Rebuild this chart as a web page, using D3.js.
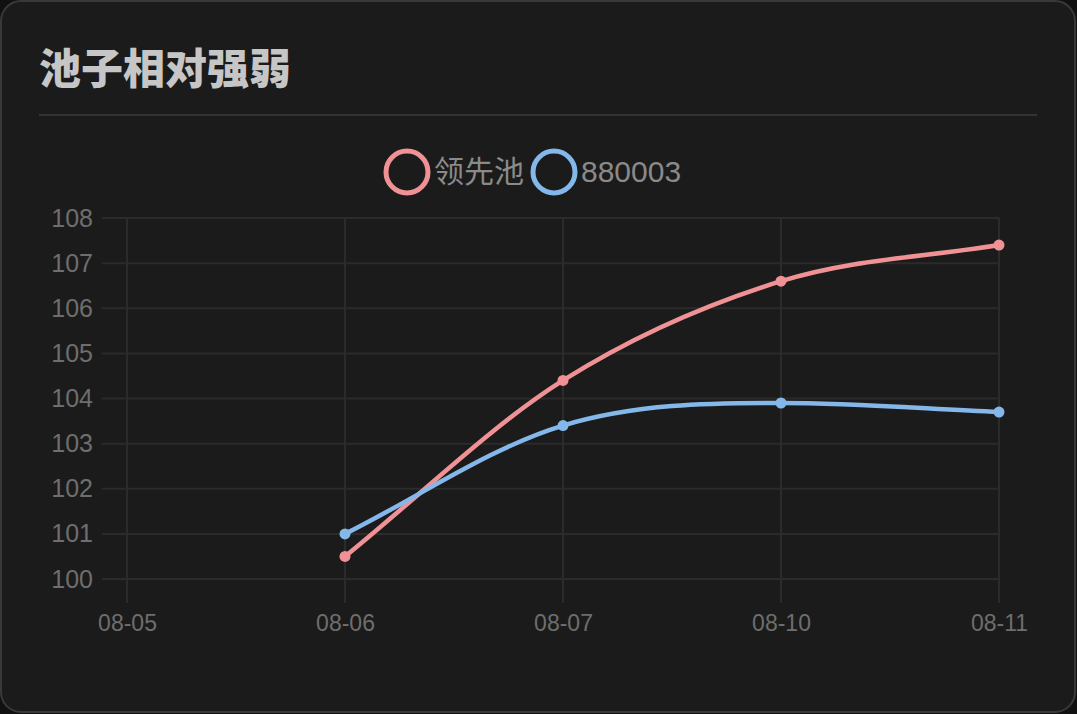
<!DOCTYPE html>
<html>
<head>
<meta charset="utf-8">
<script src="https://cdn.jsdelivr.net/npm/d3@7"></script>
<style>
  html, body { margin: 0; padding: 0; background: #111; }
  body { width: 1077px; height: 714px; overflow: hidden; }
  svg { display: block; }
</style>
</head>
<body>
<div id="chart"></div>
<script>
/* Pool relative strength, two lines */

const dates = ["08-05", "08-06", "08-07", "08-10", "08-11"];
const leadPool = [null, 100.5, 104.4, 106.6, 107.4];
const idx880003 = [null, 101.0, 103.4, 103.9, 103.7];
const yTicks = [100, 101, 102, 103, 104, 105, 106, 107, 108];

const series = [
    { name: "领先池", values: leadPool, color: "#f09295" },
    { name: "880003", values: idx880003, color: "#84b8ea" }
];

// monotone spline like chart.js (endpoint tangent = first/last secant)
function curveMono(context) {
    let xs, ys;
    return {
        areaStart() {}, areaEnd() {},
        lineStart() { xs = []; ys = []; },
        point(x, y) { xs.push(+x); ys.push(+y); },
        lineEnd() {
            const n = xs.length;
            if (!n) return;
            context.moveTo(xs[0], ys[0]);
            if (n === 1) return;
            const dk = [], mk = [];
            for (let i = 0; i < n - 1; i++) dk[i] = (ys[i + 1] - ys[i]) / (xs[i + 1] - xs[i]);
            mk[0] = dk[0];
            mk[n - 1] = dk[n - 2];
            for (let i = 1; i < n - 1; i++) {
                mk[i] = (dk[i - 1] === 0 || dk[i] === 0 || Math.sign(dk[i - 1]) !== Math.sign(dk[i]))
                    ? 0 : (dk[i - 1] + dk[i]) / 2;
            }
            for (let i = 0; i < n - 1; i++) {
                if (dk[i] === 0) { mk[i] = mk[i + 1] = 0; continue; }
                const a = mk[i] / dk[i], b = mk[i + 1] / dk[i];
                const sq = a * a + b * b;
                if (sq > 9) {
                    const t = 3 / Math.sqrt(sq);
                    mk[i] = a * t * dk[i];
                    mk[i + 1] = b * t * dk[i];
                }
            }
            for (let i = 0; i < n - 1; i++) {
                const h = (xs[i + 1] - xs[i]) / 3;
                context.bezierCurveTo(xs[i] + h, ys[i] + mk[i] * h,
                    xs[i + 1] - h, ys[i + 1] - mk[i + 1] * h,
                    xs[i + 1], ys[i + 1]);
            }
        }
    };
}

const width = 1077, height = 714;

const svg = d3.select("#chart")
    .append("svg")
    .attr("width", width)
    .attr("height", height);

// card
svg.append("rect")
    .attr("x", 1).attr("y", 1)
    .attr("width", width - 3).attr("height", height - 3)
    .attr("rx", 20)
    .attr("fill", "#1b1b1b")
    .attr("stroke", "#393939")
    .attr("stroke-width", 2);

svg.append("text")
    .attr("x", 39).attr("y", 84)
    .attr("font-family", "Noto Sans CJK SC")
    .attr("font-size", 42)
    .attr("font-weight", 900)
    .attr("fill", "#c6c6c6")
    .text("池子相对强弱");

svg.append("line")
    .attr("x1", 39).attr("x2", 1037)
    .attr("y1", 115).attr("y2", 115)
    .attr("stroke", "#333")
    .attr("stroke-width", 2);

// legend
const legend = svg.append("g")
    .attr("font-size", 30)
    .attr("fill", "#8a8a8a");
const legendX = [407, 554];
series.forEach((s, i) => {
    legend.append("circle")
        .attr("cx", legendX[i]).attr("cy", 172).attr("r", 21)
        .attr("fill", "none")
        .attr("stroke", s.color)
        .attr("stroke-width", 5);
    legend.append("text")
        .attr("x", legendX[i] + 27).attr("y", 182)
        .attr("font-family", i === 0 ? "Noto Sans CJK SC" : "Liberation Sans, Arial")
        .text(s.name);
});

const x = d3.scalePoint().domain(dates).range([127, 999]);
const y = d3.scaleLinear().domain([100, 108]).range([579, 218]);

// grid
const grid = svg.append("g").attr("stroke", "#2b2b2b").attr("stroke-width", 2);
grid.selectAll("line.h")
    .data(yTicks)
    .join("line")
    .attr("class", "h")
    .attr("x1", 102).attr("x2", 999)
    .attr("y1", d => y(d)).attr("y2", d => y(d));
grid.selectAll("line.v")
    .data(dates)
    .join("line")
    .attr("class", "v")
    .attr("x1", d => x(d)).attr("x2", d => x(d))
    .attr("y1", 218).attr("y2", 603);

// axes labels via d3 axes
const yAxis = svg.append("g")
    .attr("transform", "translate(102,0)")
    .call(d3.axisLeft(y).tickValues(yTicks).tickSize(0).tickPadding(9));
yAxis.select(".domain").remove();
yAxis.selectAll("text")
    .attr("font-family", "Liberation Sans, Arial")
    .attr("font-size", 25)
    .attr("fill", "#6e6e6e");

const xAxis = svg.append("g")
    .attr("transform", "translate(0,603)")
    .call(d3.axisBottom(x).tickSize(0).tickPadding(12));
xAxis.select(".domain").remove();
xAxis.selectAll("text")
    .attr("font-family", "Liberation Sans, Arial")
    .attr("font-size", 23)
    .attr("fill", "#6e6e6e");

// lines
const line = d3.line()
    .defined(d => d.v !== null)
    .x(d => x(d.date))
    .y(d => y(d.v))
    .curve(curveMono);

series.forEach(s => {
    const pts = dates.map((d, i) => ({ date: d, v: s.values[i] }));
    svg.append("path")
        .datum(pts)
        .attr("fill", "none")
        .attr("stroke", s.color)
        .attr("stroke-width", 4.5)
        .attr("d", line);
    svg.append("g")
        .selectAll("circle")
        .data(pts.filter(p => p.v !== null))
        .join("circle")
        .attr("cx", d => x(d.date))
        .attr("cy", d => y(d.v))
        .attr("r", 5.5)
        .attr("fill", s.color);
});
</script>
</body>
</html>
